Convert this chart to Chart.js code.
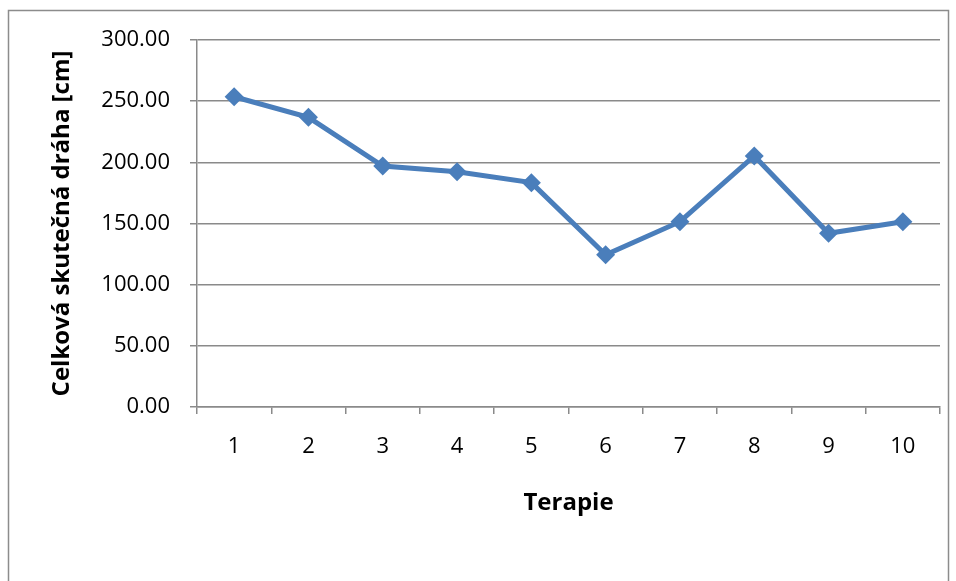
<!DOCTYPE html>
<html>
<head>
<meta charset="utf-8">
<script src="https://cdn.jsdelivr.net/npm/chart.js@4/dist/chart.umd.min.js"></script>
<style>
html,body{margin:0;padding:0;background:#fff;overflow:hidden;}
#wrap{position:absolute;left:0;top:0;width:956px;height:581px;}
</style>
</head>
<body>
<div id="wrap"><canvas id="c" width="956" height="581"></canvas></div>
<script>
const categories = ['1','2','3','4','5','6','7','8','9','10'];
const values = [253.6, 236.8, 197.0, 192.3, 183.4, 124.5, 151.5, 205.2, 142.0, 151.5];
const yTicks = [0, 50, 100, 150, 200, 250, 300];
const yTitle = 'Celková skutečná dráha [cm]';
const xTitle = 'Terapie';

const FONT = '"Open Sans", Lato, sans-serif';
const GRID = '#8a8a8a';

const frame = {
  id: 'frame',
  beforeDraw(chart) {
    const ctx = chart.ctx;
    ctx.save();
    ctx.fillStyle = '#fff';
    ctx.fillRect(0, 0, chart.width, chart.height);
    ctx.strokeStyle = '#8c8c8c';
    ctx.lineWidth = 1.5;
    ctx.strokeRect(8.5, 10.5, 940, 620);
    ctx.restore();
  }
};

new Chart(document.getElementById('c'), {
  type: 'line',
  data: {
    labels: categories,
    datasets: [{
      data: values,
      borderColor: '#4A7EBB',
      backgroundColor: '#4A7EBB',
      borderWidth: 5,
      pointStyle: 'rectRot',
      pointRadius: 9.5,
      pointHoverRadius: 9.5,
      pointBorderWidth: 0,
      tension: 0,
      fill: false
    }]
  },
  options: {
    responsive: false,
    animation: false,
    events: [],
    layout: { padding: { top: 40, right: 16, left: 0, bottom: 0 } },
    plugins: { legend: { display: false }, tooltip: { enabled: false } },
    scales: {
      x: {
        offset: true,
        grid: { display: true, drawOnChartArea: false, offset: true, color: GRID, lineWidth: 1.5, tickLength: 7 },
        border: { color: GRID, width: 1.5 },
        ticks: { color: '#000', font: { family: FONT, size: 22 }, padding: 20, maxRotation: 0 },
        title: { display: true, text: xTitle, color: '#000', font: { family: FONT, size: 24, weight: 'bold' }, padding: { top: 0, bottom: 63.6 } },
        afterFit(scale) { scale.height = 174; }
      },
      y: {
        min: 0, max: 300,
        afterBuildTicks(scale) { scale.ticks = yTicks.map(v => ({ value: v })); },
        grid: { color: GRID, lineWidth: 1.5, tickLength: 7 },
        border: { color: GRID, width: 1.5 },
        ticks: { color: '#000', font: { family: FONT, size: 22 }, padding: 20, callback: v => Number(v).toFixed(2) },
        title: { display: true, text: yTitle, color: '#000', font: { family: FONT, size: 24, weight: 'bold' }, padding: { top: 47.6, bottom: 0 } },
        afterFit(scale) { scale.width = 197; }
      }
    }
  },
  plugins: [frame]
});
</script>
</body>
</html>
